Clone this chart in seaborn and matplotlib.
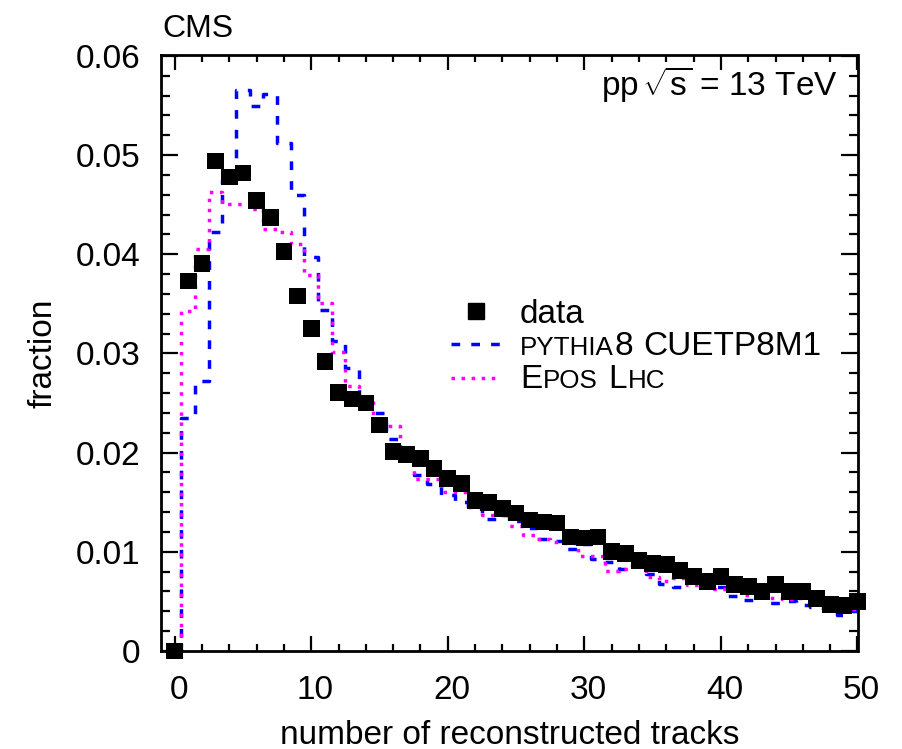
import numpy as np
import pandas as pd
import matplotlib
matplotlib.use("Agg")
import matplotlib.pyplot as plt
import matplotlib.transforms as mtransforms
from matplotlib.lines import Line2D
from matplotlib.ticker import MultipleLocator, FixedLocator, FixedFormatter
import seaborn as sns

# ---------------- data ----------------
tracks = list(range(0, 51))

data_frac = [0.0000, 0.0373, 0.0391, 0.0494, 0.0478, 0.0482, 0.0454, 0.0437, 0.0403, 0.0358,
             0.0325, 0.0292, 0.0261, 0.0254, 0.0250, 0.0228, 0.0201, 0.0198, 0.0194, 0.0184,
             0.0174, 0.0169, 0.0152, 0.0150, 0.0144, 0.0139, 0.0132, 0.0130, 0.0129, 0.0115,
             0.0114, 0.0115, 0.0100, 0.0098, 0.0091, 0.0088, 0.0087, 0.0081, 0.0075, 0.0070,
             0.0075, 0.0067, 0.0065, 0.0060, 0.0067, 0.0060, 0.0060, 0.0053, 0.0047, 0.0046,
             0.0050]

pythia_frac = [0.0000, 0.0235, 0.0272, 0.0423, 0.0475, 0.0566, 0.0550, 0.0562, 0.0512, 0.0460,
               0.0397, 0.0344, 0.0313, 0.0285, 0.0245, 0.0240, 0.0214, 0.0199, 0.0177, 0.0168,
               0.0157, 0.0150, 0.0145, 0.0133, 0.0137, 0.0131, 0.0124, 0.0113, 0.0111, 0.0103,
               0.0108, 0.0093, 0.0090, 0.0083, 0.0086, 0.0078, 0.0068, 0.0065, 0.0070, 0.0072,
               0.0065, 0.0055, 0.0051, 0.0056, 0.0048, 0.0050, 0.0046, 0.0044, 0.0042, 0.0036,
               0.0040]

epos_frac = [0.0000, 0.0343, 0.0405, 0.0463, 0.0451, 0.0451, 0.0446, 0.0426, 0.0423, 0.0410,
             0.0379, 0.0351, 0.0302, 0.0267, 0.0255, 0.0233, 0.0227, 0.0201, 0.0173, 0.0173,
             0.0160, 0.0160, 0.0145, 0.0137, 0.0137, 0.0126, 0.0117, 0.0113, 0.0110, 0.0109,
             0.0096, 0.0096, 0.0081, 0.0083, 0.0087, 0.0075, 0.0071, 0.0074, 0.0067, 0.0071,
             0.0063, 0.0064, 0.0056, 0.0057, 0.0053, 0.0052, 0.0053, 0.0050, 0.0044, 0.0052,
             0.0042]

x_tick_values = [0, 10, 20, 30, 40, 50]
x_tick_labels = ["0", "10", "20", "30", "40", "50"]
y_tick_values = [0.0, 0.01, 0.02, 0.03, 0.04, 0.05, 0.06]
y_tick_labels = ["0", "0.01", "0.02", "0.03", "0.04", "0.05", "0.06"]

# ---------------- style ----------------
sns.set_style("ticks")
plt.rcParams.update({
    "font.family": ["Liberation Sans", "DejaVu Sans"],
    "mathtext.fontset": "custom",
    "mathtext.rm": "Liberation Sans",
    "mathtext.it": "Liberation Sans:italic",
    "mathtext.bf": "Liberation Sans:bold",
    "axes.linewidth": 2.0,
    "axes.edgecolor": "black",
    "text.color": "black",
    "axes.labelcolor": "black",
    "xtick.color": "black",
    "ytick.color": "black",
})

W, H = 902, 749
fig = plt.figure(figsize=(W / 100, H / 100), dpi=100)
ax = fig.add_axes([161 / W, 98 / H, 696.5 / W, 596 / H])
ax.set_facecolor("white")

df_data = pd.DataFrame({"tracks": tracks, "fraction": data_frac})
df_py = pd.DataFrame({"tracks": tracks, "fraction": pythia_frac})
df_ep = pd.DataFrame({"tracks": tracks, "fraction": epos_frac})

lw = 2.5
py_ls = (0, (2.5, 3.2))
ep_ls = (0, (1.0, 1.9))

sns.lineplot(data=df_py, x="tracks", y="fraction", color="#0000ff", lw=lw,
             linestyle=py_ls, drawstyle="steps-mid", errorbar=None, legend=False,
             ax=ax, zorder=2)
sns.lineplot(data=df_ep, x="tracks", y="fraction", color="#ff00ff", lw=lw,
             linestyle=ep_ls, drawstyle="steps-mid", errorbar=None, legend=False,
             ax=ax, zorder=2)
sns.scatterplot(data=df_data, x="tracks", y="fraction", marker="s", s=144,
                color="black", edgecolor="none", linewidth=0, legend=False,
                ax=ax, zorder=3, clip_on=False)

ax.set_xlim(-1, 50)
ax.set_ylim(0, 0.0601)

ax.xaxis.set_major_locator(FixedLocator(x_tick_values))
ax.xaxis.set_major_formatter(FixedFormatter(x_tick_labels))
ax.xaxis.set_minor_locator(MultipleLocator(2))
ax.yaxis.set_major_locator(FixedLocator(y_tick_values))
ax.yaxis.set_major_formatter(FixedFormatter(y_tick_labels))
ax.yaxis.set_minor_locator(MultipleLocator(0.002))

ax.tick_params(axis="both", which="both", direction="in", top=True, right=True,
               width=1.6, labelsize=24)
ax.tick_params(axis="x", which="major", length=11, pad=17.5)
ax.tick_params(axis="x", which="minor", length=5)
ax.tick_params(axis="y", which="major", length=12, pad=15)
ax.tick_params(axis="y", which="minor", length=6.5)
for sp in ax.spines.values():
    sp.set_visible(True)
    sp.set_linewidth(2.0)

# ROOT-like slight right shift of x tick labels
shift = mtransforms.ScaledTranslation(4 / 100, 0, fig.dpi_scale_trans)
for lab in ax.get_xticklabels():
    lab.set_transform(lab.get_transform() + shift)

ax.set_xlabel("number of reconstructed tracks", fontsize=24, labelpad=9.5)
ax.set_ylabel("fraction", fontsize=24, labelpad=12)

ident = mtransforms.IdentityTransform()
fig.text(162, H - 37, "CMS", fontsize=23, ha="left", va="baseline", transform=ident)
fig.text(838, H - 95, r"pp$\,\sqrt{\mathrm{s}}$ = 13 TeV", fontsize=24, ha="right",
         va="baseline", transform=ident)

# ---------------- legend ----------------
h_data = Line2D([], [], marker="s", color="black", linestyle="none", markersize=12)
h_py = Line2D([], [], color="#0000ff", lw=lw, linestyle=py_ls)
h_ep = Line2D([], [], color="#ff00ff", lw=lw, linestyle=ep_ls)
leg_fs = 10
leg_px = leg_fs * 100 / 72
leg = ax.legend([h_data, h_py, h_ep], ["", "", ""], loc="upper left",
                bbox_to_anchor=(451, H - (317 - 2.0 * leg_px / 2)), bbox_transform=ident,
                frameon=False, fontsize=leg_fs, handlelength=49 / leg_px, handleheight=2.0,
                labelspacing=0.87, handletextpad=0,
                borderpad=0, borderaxespad=0)

fig.canvas.draw()
renderer = fig.canvas.get_renderer()
centers = []
for hd in leg.legend_handles:
    bb = hd.get_window_extent(renderer)
    centers.append((bb.y0 + bb.y1) / 2)


def draw_parts(x, y, parts, big=24):
    for s, size in parts:
        if s == " ":
            x += 0.278 * big * 100 / 72
            continue
        t = fig.text(x, y, s, fontsize=size, ha="left", va="baseline", transform=ident)
        bb = t.get_window_extent(renderer)
        x = bb.x1 + 0.04 * size


small = 18.7
big = 24
draw_parts(520, centers[0] - 12, [("data", big)])
draw_parts(520, centers[1] - 11, [("PYTHIA", small), ("8", big), (" ", big), ("CUETP8M1", big)])
draw_parts(520, centers[2] - 10.5, [("E", big), ("POS", small), (" ", big), ("L", big), ("HC", small)])

fig.savefig("out.png", dpi=100, facecolor="white")
